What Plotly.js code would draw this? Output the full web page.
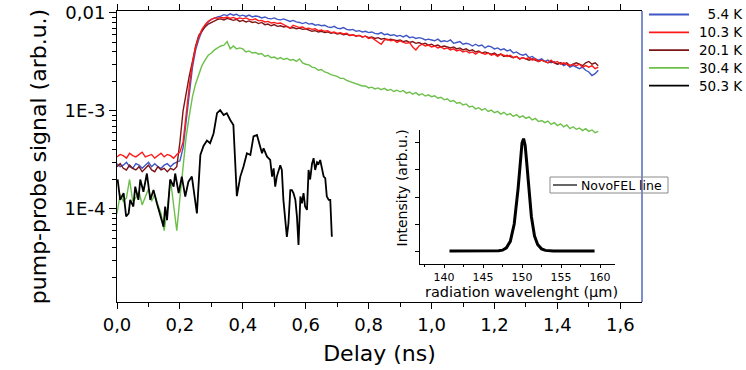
<!DOCTYPE html>
<html>
<head>
<meta charset="utf-8">
<script src="https://cdn.plot.ly/plotly-3.0.1.min.js"></script>
<style>html,body{margin:0;padding:0;background:#fff;}#chart{width:746px;height:370px;}</style>
</head>
<body>
<div id="chart"></div>
<script>
// Delay axis (ns) for the 5.4 K, 10.3 K, 20.1 K and 30.4 K traces
const delay = [
0.00,0.01,0.02,0.03,0.04,0.05,0.06,0.07,0.08,0.09,
0.10,0.11,0.12,0.13,0.14,0.15,0.16,0.17,0.18,0.19,
0.20,0.21,0.22,0.23,0.24,0.25,0.26,0.27,0.28,0.29,
0.30,0.31,0.32,0.33,0.34,0.35,0.36,0.37,0.38,0.39,
0.40,0.41,0.42,0.43,0.44,0.45,0.46,0.47,0.48,0.49,
0.50,0.51,0.52,0.53,0.54,0.55,0.56,0.57,0.58,0.59,
0.60,0.61,0.62,0.63,0.64,0.65,0.66,0.67,0.68,0.69,
0.70,0.71,0.72,0.73,0.74,0.75,0.76,0.77,0.78,0.79,
0.80,0.81,0.82,0.83,0.84,0.85,0.86,0.87,0.88,0.89,
0.90,0.91,0.92,0.93,0.94,0.95,0.96,0.97,0.98,0.99,
1.00,1.01,1.02,1.03,1.04,1.05,1.06,1.07,1.08,1.09,
1.10,1.11,1.12,1.13,1.14,1.15,1.16,1.17,1.18,1.19,
1.20,1.21,1.22,1.23,1.24,1.25,1.26,1.27,1.28,1.29,
1.30,1.31,1.32,1.33,1.34,1.35,1.36,1.37,1.38,1.39,
1.40,1.41,1.42,1.43,1.44,1.45,1.46,1.47,1.48,1.49,
1.50,1.51,1.52,1.53];

const signal_5_4K = [
2.9e-4,2.7e-4,2.8e-4,3.0e-4,2.7e-4,2.6e-4,2.9e-4,2.8e-4,2.6e-4,2.8e-4,
3.0e-4,2.7e-4,2.9e-4,2.7e-4,2.6e-4,2.8e-4,2.9e-4,2.7e-4,2.9e-4,3.0e-4,
3.1e-4,4.2e-4,7.5e-4,1.5e-3,2.8e-3,4.2e-3,5.4e-3,6.5e-3,7.4e-3,8.1e-3,
8.6e-3,8.9e-3,9.1e-3,9.3e-3,9.6e-3,9.4e-3,9.8e-3,9.5e-3,9.7e-3,9.3e-3,
9.5e-3,9.2e-3,9.5e-3,9.1e-3,9.3e-3,9.2e-3,8.9e-3,9.1e-3,8.8e-3,8.7e-3,
8.9e-3,8.6e-3,8.5e-3,8.7e-3,8.4e-3,8.2e-3,8.4e-3,8.1e-3,8.0e-3,7.8e-3,
8.0e-3,7.7e-3,7.8e-3,7.5e-3,7.6e-3,7.4e-3,7.5e-3,7.2e-3,7.1e-3,7.3e-3,
7.0e-3,6.9e-3,7.1e-3,6.8e-3,6.7e-3,6.8e-3,6.5e-3,6.6e-3,6.4e-3,6.5e-3,
6.3e-3,6.4e-3,6.2e-3,6.1e-3,6.3e-3,6.0e-3,6.1e-3,5.9e-3,6.0e-3,5.8e-3,
5.9e-3,5.7e-3,5.9e-3,5.6e-3,5.7e-3,5.5e-3,5.6e-3,5.5e-3,5.3e-3,5.4e-3,
5.3e-3,5.2e-3,5.4e-3,5.1e-3,5.2e-3,5.1e-3,5.3e-3,4.9e-3,5.0e-3,5.1e-3,
4.8e-3,4.9e-3,4.8e-3,4.6e-3,4.8e-3,4.6e-3,4.7e-3,4.4e-3,4.6e-3,4.5e-3,
4.3e-3,4.4e-3,4.2e-3,4.3e-3,4.1e-3,4.2e-3,3.9e-3,4.0e-3,3.8e-3,3.7e-3,
3.8e-3,3.5e-3,3.6e-3,3.4e-3,3.3e-3,3.4e-3,3.2e-3,3.3e-3,3.1e-3,3.2e-3,
3.0e-3,3.1e-3,2.9e-3,3.0e-3,2.8e-3,2.9e-3,2.8e-3,2.7e-3,2.8e-3,2.6e-3,
2.5e-3,2.3e-3,2.4e-3,2.6e-3];

const signal_10_3K = [
3.4e-4,3.6e-4,3.5e-4,3.3e-4,3.7e-4,3.5e-4,3.4e-4,3.6e-4,3.8e-4,3.4e-4,
3.5e-4,3.6e-4,3.3e-4,3.5e-4,3.7e-4,3.4e-4,3.6e-4,3.5e-4,3.3e-4,3.6e-4,
3.8e-4,4.8e-4,1.0e-3,1.8e-3,3.1e-3,4.5e-3,5.7e-3,6.8e-3,7.6e-3,8.2e-3,
8.6e-3,8.9e-3,8.8e-3,9.0e-3,8.9e-3,9.1e-3,8.8e-3,9.0e-3,8.7e-3,8.9e-3,
8.7e-3,8.9e-3,8.6e-3,8.5e-3,8.7e-3,8.3e-3,8.4e-3,8.1e-3,8.2e-3,7.9e-3,
8.0e-3,7.8e-3,7.9e-3,7.6e-3,7.4e-3,7.0e-3,7.5e-3,7.3e-3,7.1e-3,7.2e-3,
6.9e-3,7.0e-3,6.8e-3,6.9e-3,6.6e-3,6.7e-3,6.5e-3,6.6e-3,6.3e-3,6.4e-3,
6.2e-3,6.3e-3,6.1e-3,6.2e-3,5.9e-3,6.0e-3,5.8e-3,5.9e-3,5.7e-3,5.8e-3,
5.5e-3,5.6e-3,5.3e-3,5.0e-3,4.8e-3,5.3e-3,5.4e-3,5.2e-3,5.3e-3,5.0e-3,
5.2e-3,5.0e-3,4.9e-3,5.0e-3,4.5e-3,4.2e-3,4.6e-3,4.8e-3,4.6e-3,4.7e-3,
4.5e-3,4.6e-3,4.4e-3,4.5e-3,4.3e-3,4.4e-3,4.2e-3,4.3e-3,4.1e-3,4.2e-3,
4.0e-3,4.1e-3,3.9e-3,4.0e-3,3.8e-3,4.0e-3,3.9e-3,3.8e-3,3.9e-3,3.7e-3,
3.8e-3,3.6e-3,3.8e-3,3.7e-3,3.6e-3,3.7e-3,3.5e-3,3.6e-3,3.4e-3,3.5e-3,
3.4e-3,3.5e-3,3.3e-3,3.4e-3,3.2e-3,3.3e-3,3.2e-3,3.1e-3,3.3e-3,3.1e-3,
3.2e-3,3.0e-3,3.1e-3,3.0e-3,2.9e-3,3.0e-3,2.9e-3,3.0e-3,2.8e-3,2.9e-3,
2.8e-3,2.9e-3,2.7e-3,2.8e-3];

const signal_20_1K = [
2.7e-4,2.9e-4,2.6e-4,2.5e-4,2.8e-4,2.6e-4,2.5e-4,2.7e-4,2.4e-4,2.6e-4,
2.8e-4,2.5e-4,2.4e-4,2.7e-4,2.5e-4,2.6e-4,2.4e-4,2.6e-4,2.5e-4,2.7e-4,
4.8e-4,1.0e-3,1.6e-3,2.3e-3,3.2e-3,4.6e-3,5.9e-3,6.6e-3,7.2e-3,7.7e-3,
8.0e-3,8.4e-3,8.6e-3,8.7e-3,8.5e-3,8.8e-3,8.6e-3,8.4e-3,8.6e-3,8.2e-3,
8.4e-3,8.1e-3,8.3e-3,8.0e-3,8.1e-3,7.8e-3,8.0e-3,7.6e-3,7.7e-3,7.4e-3,
7.6e-3,7.3e-3,7.4e-3,7.2e-3,7.3e-3,7.0e-3,7.1e-3,6.9e-3,7.0e-3,6.8e-3,
6.9e-3,6.7e-3,6.5e-3,6.6e-3,6.4e-3,6.5e-3,6.3e-3,6.4e-3,6.2e-3,6.3e-3,
6.1e-3,6.2e-3,6.0e-3,6.1e-3,5.9e-3,6.0e-3,5.8e-3,5.9e-3,5.7e-3,5.8e-3,
5.6e-3,5.7e-3,5.5e-3,5.6e-3,5.4e-3,5.5e-3,5.3e-3,5.4e-3,5.3e-3,5.2e-3,
5.3e-3,5.1e-3,5.2e-3,5.0e-3,5.1e-3,4.9e-3,5.0e-3,4.8e-3,4.9e-3,4.7e-3,
4.8e-3,4.6e-3,4.7e-3,4.5e-3,4.6e-3,4.5e-3,4.4e-3,4.5e-3,4.3e-3,4.4e-3,
4.2e-3,4.3e-3,4.1e-3,4.2e-3,4.0e-3,4.1e-3,3.9e-3,4.0e-3,3.9e-3,3.8e-3,
3.9e-3,3.7e-3,3.8e-3,3.6e-3,3.7e-3,3.6e-3,3.5e-3,3.6e-3,3.4e-3,3.5e-3,
3.4e-3,3.3e-3,3.4e-3,3.3e-3,3.2e-3,3.3e-3,3.2e-3,3.1e-3,3.2e-3,3.1e-3,
3.0e-3,3.1e-3,3.0e-3,3.1e-3,2.9e-3,3.0e-3,3.1e-3,3.0e-3,2.9e-3,3.1e-3,
3.2e-3,3.0e-3,3.1e-3,2.9e-3];

const signal_30_4K = [
0.9e-4,1.4e-4,1.2e-4,1.3e-4,2.0e-4,1.2e-4,1.3e-4,1.5e-4,1.1e-4,1.3e-4,
1.6e-4,1.2e-4,1.4e-4,1.1e-4,0.9e-4,0.6e-4,1.0e-4,2.0e-4,1.1e-4,0.6e-4,
1.3e-4,2.8e-4,5.5e-4,9.0e-4,1.4e-3,1.9e-3,2.4e-3,2.9e-3,3.3e-3,3.7e-3,
3.9e-3,4.2e-3,4.4e-3,4.6e-3,4.7e-3,5.1e-3,4.3e-3,4.6e-3,4.3e-3,4.4e-3,
4.3e-3,4.0e-3,4.1e-3,3.9e-3,3.95e-3,3.8e-3,3.85e-3,3.6e-3,3.7e-3,3.5e-3,
3.55e-3,3.4e-3,3.5e-3,3.35e-3,3.45e-3,3.3e-3,3.35e-3,3.2e-3,3.4e-3,3.1e-3,
3.0e-3,2.95e-3,2.8e-3,2.75e-3,2.6e-3,2.65e-3,2.5e-3,2.45e-3,2.35e-3,2.3e-3,
2.25e-3,2.15e-3,2.15e-3,2.05e-3,2.0e-3,1.95e-3,1.9e-3,1.85e-3,1.8e-3,1.8e-3,
1.72e-3,1.75e-3,1.68e-3,1.72e-3,1.65e-3,1.7e-3,1.62e-3,1.66e-3,1.58e-3,1.63e-3,
1.57e-3,1.62e-3,1.52e-3,1.56e-3,1.48e-3,1.54e-3,1.45e-3,1.5e-3,1.42e-3,1.46e-3,
1.4e-3,1.43e-3,1.35e-3,1.38e-3,1.3e-3,1.33e-3,1.25e-3,1.28e-3,1.2e-3,1.22e-3,
1.15e-3,1.18e-3,1.1e-3,1.12e-3,1.05e-3,1.08e-3,1.02e-3,1.06e-3,0.99e-3,1.02e-3,
0.96e-3,0.99e-3,0.93e-3,0.97e-3,0.91e-3,0.94e-3,0.88e-3,0.92e-3,0.86e-3,0.89e-3,
0.84e-3,0.87e-3,0.81e-3,0.84e-3,0.78e-3,0.8e-3,0.76e-3,0.79e-3,0.73e-3,0.76e-3,
0.71e-3,0.74e-3,0.69e-3,0.72e-3,0.66e-3,0.69e-3,0.65e-3,0.67e-3,0.63e-3,0.66e-3,
0.62e-3,0.64e-3,0.6e-3,0.62e-3];

// 50.3 K trace (own delay sampling)
const delay_50_3K = [
0.002,0.010,0.021,0.029,0.037,0.042,0.052,0.058,0.068,0.074,
0.084,0.095,0.106,0.116,0.127,0.137,0.148,0.153,0.159,0.164,
0.169,0.180,0.185,0.196,0.206,0.217,0.227,0.238,0.243,0.254,
0.259,0.265,0.275,0.286,0.296,0.307,0.318,0.328,0.339,0.349,
0.360,0.370,0.381,0.392,0.402,0.413,0.424,0.434,0.445,0.455,
0.461,0.466,0.477,0.487,0.493,0.498,0.503,0.508,0.519,0.524,
0.529,0.540,0.545,0.551,0.556,0.561,0.567,0.572,0.577,0.583,
0.588,0.593,0.598,0.604,0.609,0.614,0.620,0.625,0.630,0.636,
0.641,0.646,0.657,0.662,0.667,0.673,0.678,0.683];
const signal_50_3K = [
2.0e-4,1.24e-4,1.45e-4,8.4e-5,9.0e-5,1.24e-4,1.06e-4,1.69e-4,1.24e-4,2.0e-4,
1.5e-4,2.3e-4,1.24e-4,1.56e-4,1.14e-4,9.0e-5,6.6e-5,1.06e-4,7.7e-5,1.24e-4,
2.0e-4,1.69e-4,2.3e-4,1.45e-4,2.14e-4,1.34e-4,1.9e-4,2.14e-4,1.69e-4,9.0e-5,
1.69e-4,3.56e-4,4.4e-4,5.0e-4,4.7e-4,5.9e-4,9.5e-4,1.02e-3,9.1e-4,9.5e-4,
8.1e-4,7.2e-4,1.35e-4,2.14e-4,2.7e-4,3.7e-4,3.56e-4,5.5e-4,5.7e-4,4.3e-4,
3.7e-4,4.16e-4,3.42e-4,3.16e-4,2.14e-4,2.6e-4,1.69e-4,2.14e-4,2.8e-4,2.5e-4,
1.24e-4,5.2e-5,7.1e-5,1.56e-4,1.56e-4,1.45e-4,1.24e-4,8.4e-5,4.3e-5,1.34e-4,
1.14e-4,1.45e-4,1.06e-4,9.8e-5,2.5e-4,2.0e-4,2.9e-4,3.3e-4,2.5e-4,3.0e-4,
2.9e-4,3.16e-4,2.14e-4,2.06e-4,1.34e-4,1.24e-4,1.24e-4,5.2e-5];

// Inset: NovoFEL line spectrum
const wavelength = [140.7,142,144,146,147,147.5,148,148.5,149,149.5,149.8,150.0,150.2,150.4,150.6,150.9,151.2,151.6,152,152.5,153,154,156,158,159.3];
const intensity  = [0,0,0,0,0.002,0.008,0.03,0.09,0.25,0.58,0.85,1.0,1.04,0.98,0.82,0.55,0.32,0.14,0.06,0.02,0.006,0,0,0,0];

// Labels and colours
const seriesNames  = ['\u20075.4 K','10.3 K','20.1 K','30.4 K','50.3 K'];
const seriesColors = ['#3f57c4','#ff1a1a','#7b1416','#6cc04a','#000000'];
const insetName = 'NovoFEL line';
const yTickVals = [1e-4,1e-3,1e-2];
const yTickText = ['1E-4','1E-3','0,01'];
const insetTickVals = [140,145,150,155,160];

const FONT = 'DejaVu Sans, Arial, sans-serif';

// plot-area pixel helpers for decorations (legend, inset titles)
const PL = 117, PW = 525, PB = 302, PH = 291;
const px = v => (v - PL) / PW;
const py = v => (PB - v) / PH;

// minor tick positions of the log axis (axis decoration only)
const minorVals = [];
for (const d of [1e-5,1e-4,1e-3]) for (let k=2;k<=9;k++) minorVals.push(k*d);

const traces = [
  {x: delay, y: signal_30_4K, name: seriesNames[3], mode:'lines', line:{color:seriesColors[3], width:1.4}},
  {x: delay, y: signal_5_4K,  name: seriesNames[0], mode:'lines', line:{color:seriesColors[0], width:1.4}},
  {x: delay, y: signal_20_1K, name: seriesNames[2], mode:'lines', line:{color:seriesColors[2], width:1.4}},
  {x: delay, y: signal_10_3K, name: seriesNames[1], mode:'lines', line:{color:seriesColors[1], width:1.4}},
  {x: delay_50_3K, y: signal_50_3K, name: seriesNames[4], mode:'lines', line:{color:seriesColors[4], width:1.8}},
  {x: wavelength, y: intensity, name: insetName, xaxis:'x2', yaxis:'y2', mode:'lines', line:{color:'#000000', width:3}}
];

// legend (drawn as decoration for exact spacing)
const legendRows = [14.5, 32.3, 50.1, 67.9, 85.7];
const shapes = [
  {type:'line', xref:'paper', yref:'paper', x0:1, x1:1, y0:0, y1:1, line:{color:'#5468c4', width:1.5}}
];
const annotations = [];
seriesNames.forEach((n, i) => {
  shapes.push({type:'line', xref:'paper', yref:'paper', x0:px(649), x1:px(689), y0:py(legendRows[i]), y1:py(legendRows[i]), line:{color:seriesColors[i], width:1.8}});
  annotations.push({xref:'paper', yref:'paper', x:px(697), y:py(legendRows[i]), xanchor:'left', yanchor:'middle', showarrow:false, text:n, font:{size:13.5, family:FONT, color:'#000'}});
});
// inset legend box
shapes.push({type:'rect', xref:'paper', yref:'paper', x0:px(550), x1:px(668), y0:py(193), y1:py(177), line:{color:'#8a8a8a', width:1}, fillcolor:'rgba(255,255,255,0)'});
shapes.push({type:'line', xref:'paper', yref:'paper', x0:px(553), x1:px(577), y0:py(185), y1:py(185), line:{color:'#000', width:1.2}});
annotations.push({xref:'paper', yref:'paper', x:px(579), y:py(185), xanchor:'left', yanchor:'middle', showarrow:false, text:insetName, font:{size:12.5, family:FONT, color:'#000'}});
// inset axis titles
annotations.push({xref:'paper', yref:'paper', x:px(521), y:py(292), xanchor:'center', yanchor:'middle', showarrow:false, text:'radiation wavelenght (\u00b5m)', font:{size:14.5, family:FONT, color:'#000'}});
annotations.push({xref:'paper', yref:'paper', x:px(401.5), y:py(188), xanchor:'center', yanchor:'middle', showarrow:false, textangle:-90, text:'Intensity (arb.u.)', font:{size:14, family:FONT, color:'#000'}});

const layout = {
  width: 746, height: 370,
  margin: {l:117, r:104, t:11, b:68, pad:0},
  paper_bgcolor:'#ffffff', plot_bgcolor:'rgba(0,0,0,0)',
  font: {family: FONT, color:'#000', size:14},
  separators: ',.',
  showlegend: false,
  xaxis: {
    range:[0,1.669], tickmode:'linear', tick0:0, dtick:0.2, tickformat:'.1f',
    ticks:'outside', ticklen:6, tickwidth:1, tickcolor:'#000',
    showline:true, linecolor:'#000', linewidth:1, mirror:'ticks',
    showgrid:false, zeroline:false,
    minor:{dtick:0.1, tick0:0, ticks:'outside', ticklen:4, tickcolor:'#000', showgrid:false},
    tickfont:{size:18, family:FONT},
    title:{text:'Delay (ns)', font:{size:22, family:FONT}, standoff:12}
  },
  yaxis: {
    type:'log', range:[-4.949,-1.98],
    tickmode:'array', tickvals:yTickVals, ticktext:yTickText,
    ticks:'outside', ticklen:7, tickwidth:1, tickcolor:'#000',
    showline:true, linecolor:'#000', linewidth:1, mirror:false,
    showgrid:false, zeroline:false,
    minor:{tickmode:'array', tickvals:minorVals, ticks:'outside', ticklen:4, tickcolor:'#000', showgrid:false},
    tickfont:{size:18, family:FONT},
    title:{text:'pump-probe signal (arb.u.)', font:{size:22, family:FONT}, standoff:11}
  },
  xaxis2: {
    domain:[px(420),px(615)], anchor:'y2', range:[136.92,161.92],
    tickmode:'array', tickvals:insetTickVals,
    ticks:'outside', ticklen:3, tickcolor:'#000',
    minor:{dtick:2.5, tick0:0, ticks:'outside', ticklen:2, tickcolor:'#000', showgrid:false},
    showline:true, linecolor:'#000', linewidth:1, showgrid:false, zeroline:false,
    tickfont:{size:11, family:FONT}
  },
  yaxis2: {
    domain:[py(264),py(130)], anchor:'x2', range:[-0.12,1.12],
    tickmode:'array', tickvals:[0,0.25,0.5,0.75,1.0], showticklabels:false,
    ticks:'outside', ticklen:4, tickcolor:'#000',
    showline:true, linecolor:'#000', linewidth:1, showgrid:false, zeroline:false
  },
  shapes: shapes,
  annotations: annotations
};

Plotly.newPlot('chart', traces, layout, {displayModeBar:false, staticPlot:true});
</script>
</body>
</html>
